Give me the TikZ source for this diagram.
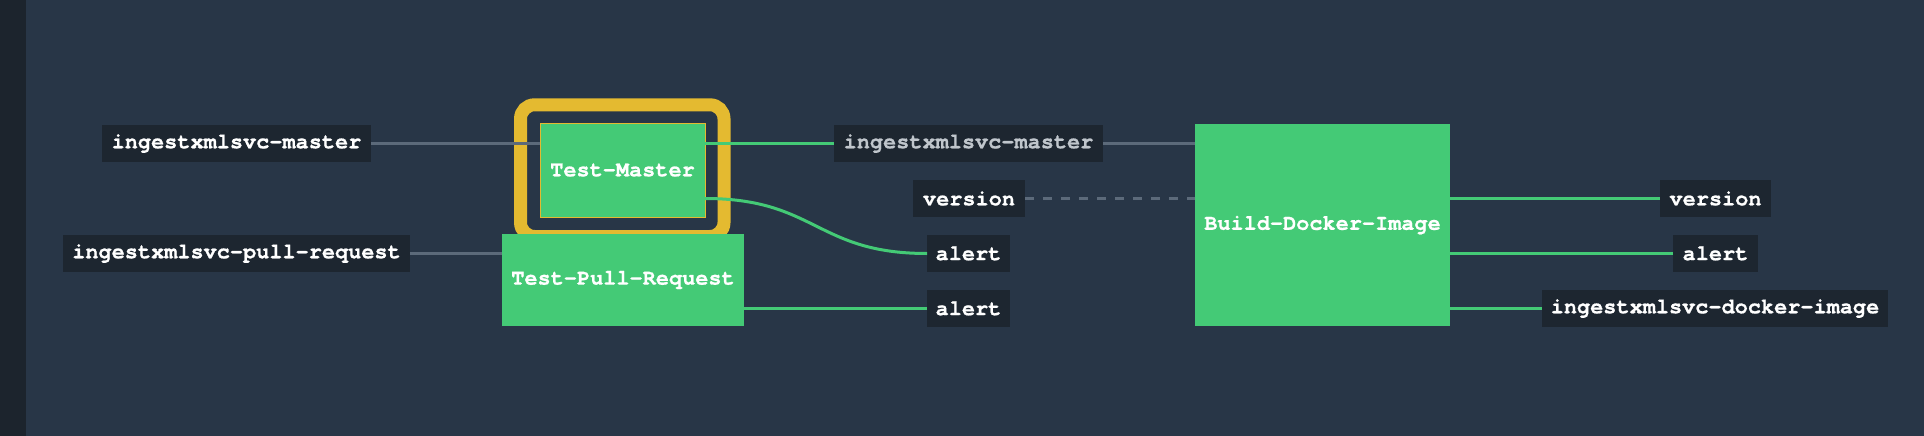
\documentclass[tikz,border=0pt]{standalone}
\usepackage{fontspec}
\setmonofont[BoldFeatures={FakeBold=0.8}]{TeX Gyre Cursor}
\definecolor{bgc}{RGB}{40,54,71}
\definecolor{stripc}{RGB}{28,36,45}
\definecolor{boxc}{RGB}{29,38,48}
\definecolor{greenc}{RGB}{68,202,118}
\definecolor{yellowc}{RGB}{228,186,48}
\definecolor{linec}{RGB}{92,106,122}
\definecolor{dimtext}{RGB}{192,198,204}
\begin{document}
\begin{tikzpicture}[x=1pt,y=-1pt,
  every node/.style={font=\fontsize{21.9}{22}\selectfont\ttfamily\bfseries, inner sep=0pt, outer sep=0pt},
  resbox/.style={fill=boxc, text=white, minimum height=37pt},
  jobbox/.style={fill=greenc, text=white},
  ringbox/.style={draw=yellowc, line width=13pt, rounded corners=14pt},
  inedge/.style={draw=linec, line width=3pt},
  outedge/.style={draw=greenc, line width=3pt},
  passedge/.style={draw=linec, line width=3.5pt, dash pattern=on 9pt off 9pt}]
\fill[bgc] (0,0) rectangle (1924,436);
\fill[stripc] (0,0) rectangle (26,436);
\useasboundingbox (0,0) rectangle (1924,436);

% running ring around Test-Master
\node[ringbox, minimum width=203.5pt, minimum height=131.7pt] (ring) at (622.25,170.65) {};

% jobs
\node[jobbox, minimum width=165pt, minimum height=94pt, draw=yellowc, line width=1pt] (j1) at (622.5,170) {Test-Master};
\node[jobbox, minimum width=242pt, minimum height=92pt] (j2) at (623,280) {Test-Pull-Request};
\node[jobbox, minimum width=255pt, minimum height=202pt] (j3) at (1322.5,225) {Build-Docker-Image};

% resources
\node[resbox, minimum width=269pt] (r1) at (236.5,143.5) {ingestxmlsvc-master};
\node[resbox, minimum width=347pt] (r2) at (236.5,253.5) {ingestxmlsvc-pull-request};
\node[resbox, minimum width=269pt, text=dimtext] (r3) at (968.5,143.5) {ingestxmlsvc-master};
\node[resbox, minimum width=112pt] (r4) at (969,198.5) {version};
\node[resbox, minimum width=83pt] (r5) at (968.5,253.5) {alert};
\node[resbox, minimum width=83pt] (r6) at (968.5,308.5) {alert};
\node[resbox, minimum width=111pt] (r7) at (1715.5,198.5) {version};
\node[resbox, minimum width=85pt] (r8) at (1715.5,253.5) {alert};
\node[resbox, minimum width=346pt] (r9) at (1715,308.5) {ingestxmlsvc-docker-image};

% connectors
\draw[inedge] (r1.east) -- (r1.east -| j1.west);
\draw[inedge] (r2.east) -- (r2.east -| j2.west);
\draw[outedge] (j1.east |- r3.west) -- (r3.west);
\draw[outedge] (j1.east |- r4.west) .. controls ([xshift=111pt]j1.east |- r4.west) and ([xshift=-111pt]r5.west) .. (r5.west);
\draw[outedge] (j2.east |- r6.west) -- (r6.west);
\draw[inedge] (r3.east) -- (r3.east -| j3.west);
\draw[passedge] (r4.east) -- (r4.east -| j3.west);
\draw[outedge] (j3.east |- r7.west) -- (r7.west);
\draw[outedge] (j3.east |- r8.west) -- (r8.west);
\draw[outedge] (j3.east |- r9.west) -- (r9.west);
\end{tikzpicture}
\end{document}
